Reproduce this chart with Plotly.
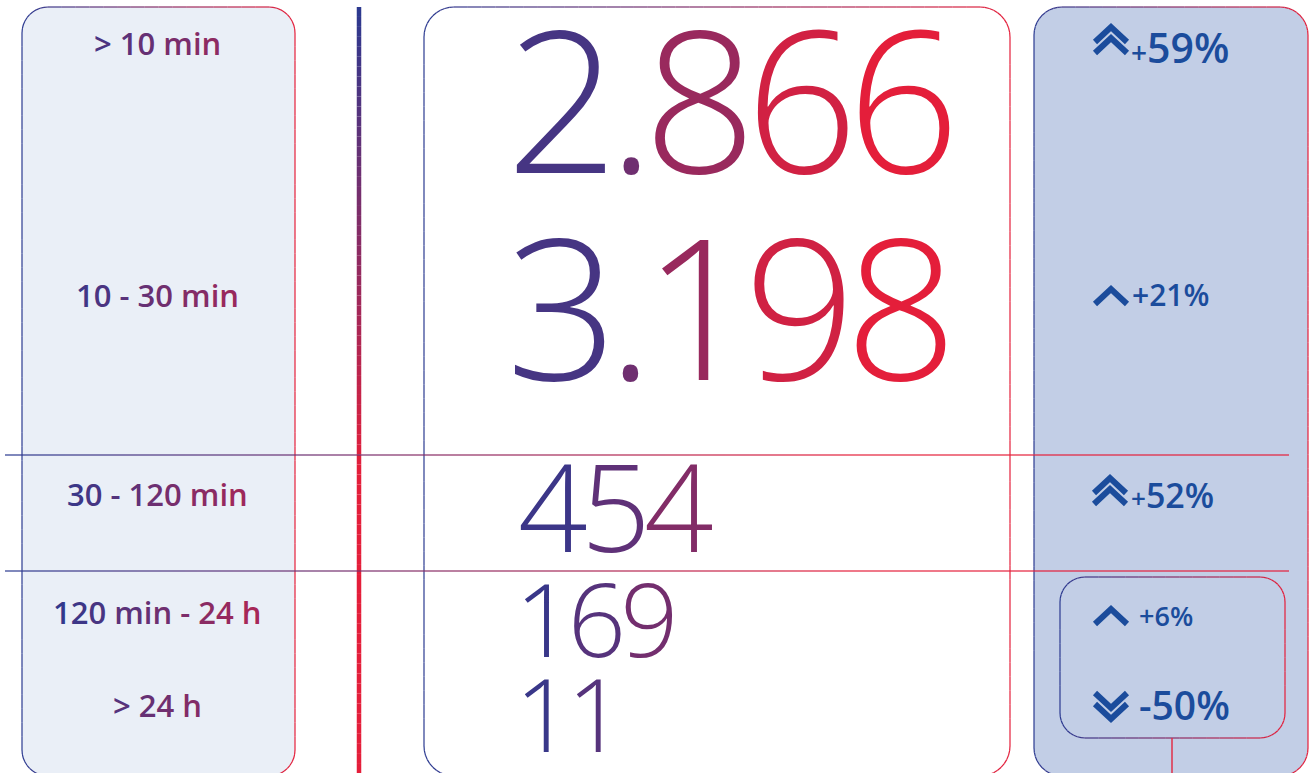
import math
import plotly.graph_objects as go

# ---------------- data ----------------
categories = ["> 10 min", "10 - 30 min", "30 - 120 min", "120 min - 24 h", "> 24 h"]
counts = ["2.866", "3.198", "454", "169", "11"]
changes = ["+59%", "+21%", "+52%", "+6%", "-50%"]
arrow_kind = ["up2", "up", "up2", "up", "down2"]

# ---------------- layout / style ----------------
W, H = 1309, 773
BLUE = (42, 57, 144)
RED = (228, 30, 58)
ARROW_BLUE = "#1B4C9C"
FONT = "Open Sans"

label_y = [44, 296, 495, 613, 706]
label_size = 31
count_y = [102, 310, 509, 621, 716]
count_x = [512, 512, 521, 517, 517]
count_size = [197, 196, 122, 102, 101]
count_stretch = 90
count_track = -0.055
count_adv = 0.81
change_y = [48.5, 295.5, 496, 616, 705.5]
change_x = [1129, 1130, 1129, 1137, 1137]
change_size = [41, 30, 34, 27, 39]
plus_size = [28, 30, 26, 27, 39]
arrow_cx = [1111, 1111, 1110, 1111, 1111]
arrow_top = [27, 289, 478, 609, 693]


def grad(t):
    t = max(0.0, min(1.0, t))
    c = [round(a + (b - a) * t) for a, b in zip(BLUE, RED)]
    return "#%02x%02x%02x" % tuple(c)


shapes = []


def seg_shape(p, q, color, width):
    shapes.append(dict(type="path", xref="x", yref="y",
                       path=f"M{p[0]:.2f},{p[1]:.2f} L{q[0]:.2f},{q[1]:.2f}",
                       line=dict(color=color, width=width)))


def rr_points(x0, y0, x1, y1, r, n=10):
    pts = []
    arcs = [((x0 + r, y0 + r), math.pi, 1.5 * math.pi),
            ((x1 - r, y0 + r), 1.5 * math.pi, 2 * math.pi),
            ((x1 - r, y1 - r), 0, 0.5 * math.pi),
            ((x0 + r, y1 - r), 0.5 * math.pi, math.pi)]
    for (cx, cy), a0, a1 in arcs:
        for i in range(n + 1):
            a = a0 + (a1 - a0) * i / n
            pts.append((cx + r * math.cos(a), cy + r * math.sin(a)))
    pts.append(pts[0])
    return pts


def grad_polyline(pts, gx0, gx1, width, step=14, axis="x"):
    for p, q in zip(pts[:-1], pts[1:]):
        L = math.hypot(q[0] - p[0], q[1] - p[1])
        k = max(1, int(math.ceil(L / step)))
        for i in range(k):
            a = (p[0] + (q[0] - p[0]) * i / k, p[1] + (q[1] - p[1]) * i / k)
            b = (p[0] + (q[0] - p[0]) * (i + 1) / k, p[1] + (q[1] - p[1]) * (i + 1) / k)
            m = (a[0] + b[0]) / 2 if axis == "x" else (a[1] + b[1]) / 2
            seg_shape(a, b, grad((m - gx0) / (gx1 - gx0)), width)


def panel(x0, y0, x1, y1, r, fill, lw=1.2):
    pts = rr_points(x0, y0, x1, y1, r)
    if fill:
        path = "M" + " L".join(f"{x:.2f},{y:.2f}" for x, y in pts) + " Z"
        shapes.append(dict(type="path", xref="x", yref="y", path=path,
                           fillcolor=fill, line=dict(width=0)))
    grad_polyline(pts, x0, x1, lw)


# panels
panel(22, 7, 295, 776, 26, "#EAEFF7")
panel(424, 7, 1010, 776, 30, "#FFFFFF")
panel(1034, 7, 1308, 776, 28, "#C2CEE6")
# thick vertical divider
grad_polyline([(359, 7), (359, 773)], 8, 470, 4.5, step=10, axis="y")
# horizontal separators
for yy in (455, 571):
    grad_polyline([(5, yy), (1289, yy)], 5, 850, 1.2, step=12)
# inner box in right panel + connector
panel(1060, 577, 1285, 738, 25, None)
seg_shape((1172, 738), (1172, 773), "#E0304A", 1.5)


# chevrons
def chevron(cx, ytop, down=False, half=16, h=15):
    if down:
        path = f"M{cx - half},{ytop} L{cx},{ytop + h} L{cx + half},{ytop}"
    else:
        path = f"M{cx - half},{ytop + h} L{cx},{ytop} L{cx + half},{ytop + h}"
    shapes.append(dict(type="path", xref="x", yref="y", path=path,
                       line=dict(color=ARROW_BLUE, width=6)))


for k, cx, yt in zip(arrow_kind, arrow_cx, arrow_top):
    down = k.startswith("down")
    chevron(cx, yt, down)
    if k.endswith("2"):
        chevron(cx, yt + 11, down)

# ---------------- text ----------------
EM = {".": 0.26, " ": 0.26, "-": 0.32, ">": 0.572, "m": 0.9, "i": 0.26, "n": 0.62, "h": 0.62}


def char_w(c):
    return EM.get(c, 0.572)


def gradient_text(s, x_start, size, t_of_x, extra_style=""):
    out, x = [], x_start
    for c in s:
        w = char_w(c) * size
        col = grad(t_of_x(x + w / 2))
        style = f"color:{col}" + (";" + extra_style if extra_style else "")
        out.append(f"<span style='{style}'>{c}</span>")
        x += w
    return "".join(out)


annotations = []

# left labels (gradient across left panel)
for lab, y in zip(categories, label_y):
    total = sum(char_w(c) for c in lab) * label_size
    xs = 157 - total / 2
    txt = gradient_text(lab, xs, label_size, lambda x: (x - 50) / 300)
    annotations.append(dict(x=157, y=y - 0.03 * label_size, xref="x", yref="y", text=txt,
                            showarrow=False, xanchor="center", yanchor="middle",
                            font=dict(family=FONT, size=label_size, weight=600)))

# big counts
for val, x0, y, sz in zip(counts, count_x, count_y, count_size):
    scale = sz * count_adv
    style = f"font-stretch:{count_stretch}%;letter-spacing:{count_track * sz:.1f}px"
    txt = gradient_text(val, x0, scale, lambda x, x0=x0: (x - x0) / 300, extra_style=style)
    annotations.append(dict(x=x0 - 0.05 * scale, y=y - 0.03 * sz, xref="x", yref="y", text=txt,
                            showarrow=False, xanchor="left", yanchor="middle",
                            font=dict(family=FONT, size=sz, weight=340)))

# changes
for ch, x0, y, sz, ps in zip(changes, change_x, change_y, change_size, plus_size):
    sign, rest = ch[0], ch[1:]
    if sign == "+" and ps != sz:
        txt = f"<span style='font-size:{ps}px'>{sign}</span>{rest}"
    else:
        txt = ch
    annotations.append(dict(x=x0, y=y - 0.03 * sz, xref="x", yref="y", text=txt,
                            showarrow=False, xanchor="left", yanchor="middle",
                            font=dict(family=FONT, size=sz, weight=600, color=ARROW_BLUE)))

fig = go.Figure()
fig.update_layout(width=W, height=H, margin=dict(l=0, r=0, t=0, b=0),
                  shapes=shapes, annotations=annotations,
                  xaxis=dict(range=[0, W], visible=False, fixedrange=True),
                  yaxis=dict(range=[H, 0], visible=False, fixedrange=True),
                  plot_bgcolor="white", paper_bgcolor="white", showlegend=False)
fig.write_html("out.html", config={"displayModeBar": False},
               post_script="document.body.style.margin='0';")
